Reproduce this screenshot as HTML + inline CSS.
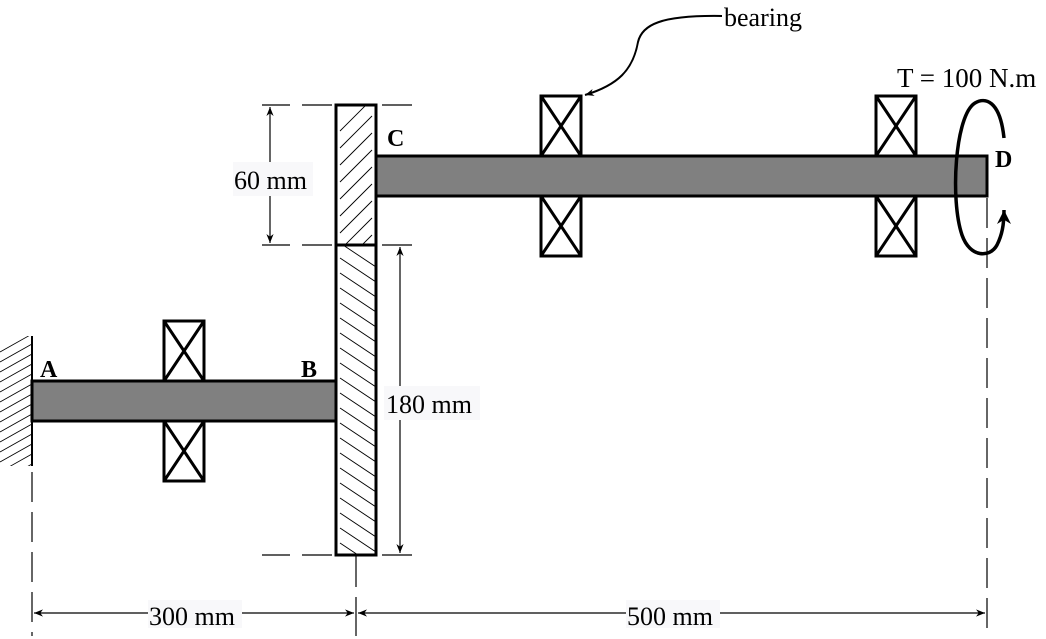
<!DOCTYPE html>
<html><head><style>body{margin:0;background:#fff}svg{display:block}text{font-family:"Liberation Serif",serif}</style></head>
<body>
<svg width="1046" height="639" viewBox="0 0 1046 639" xmlns="http://www.w3.org/2000/svg">
<defs>
<marker id="ar" viewBox="0 0 10 10" refX="10" refY="5" markerWidth="9" markerHeight="9" orient="auto-start-reverse" markerUnits="userSpaceOnUse"><path d="M0,1 L10,5 L0,9 L3,5 z" fill="#000"/></marker>
<marker id="ar2" viewBox="0 0 10 10" refX="10" refY="5" markerWidth="14" markerHeight="14" orient="auto" markerUnits="userSpaceOnUse"><path d="M0,0 L10,5 L0,10 L3,5 z" fill="#000"/></marker>
<clipPath id="cu"><rect x="337" y="106" width="38" height="138"/></clipPath>
<clipPath id="cl"><rect x="337" y="246" width="38" height="308"/></clipPath>
<clipPath id="cw"><rect x="0" y="336" width="32" height="130"/></clipPath>
</defs>
<g clip-path="url(#cw)" stroke="#000" stroke-width="0.8">
<path d="M0,352 L32,334 M0,362 L32,344 M0,372 L32,354 M0,382 L32,364 M0,392 L32,374 M0,402 L32,384 M0,412 L32,394 M0,422 L32,404 M0,432 L32,414 M0,442 L32,424 M0,452 L32,434 M0,462 L32,444 M0,472 L32,454 M0,482 L32,464"/>
</g>
<line x1="32" y1="336" x2="32" y2="466" stroke="#000" stroke-width="2"/>
<g stroke="#000" stroke-width="1.2" stroke-dasharray="30,10">
<line x1="32" y1="472" x2="32" y2="636"/>
<line x1="987" y1="198" x2="987" y2="636"/>
</g>
<g stroke="#000" stroke-width="1.2">
<line x1="356" y1="556" x2="356" y2="587"/>
<line x1="356" y1="597" x2="356" y2="636"/>
</g>
<rect x="32" y="381" width="304" height="40" fill="#808080" stroke="#000" stroke-width="3"/>
<rect x="376" y="156" width="611" height="40" fill="#808080" stroke="#000" stroke-width="3"/>
<rect x="336" y="105" width="40" height="450" fill="#fff" stroke="#000" stroke-width="3"/>
<line x1="336" y1="245" x2="376" y2="245" stroke="#000" stroke-width="3"/>
<g clip-path="url(#cu)" stroke="#000" stroke-width="0.9">
<path d="M340,148 L372,116 M340,165 L372,133 M340,182 L372,150 M340,199 L372,167 M340,216 L372,184 M340,233 L372,201 M340,250 L372,218 M340,267 L372,235 M340,131 L372,99"/>
</g>
<g clip-path="url(#cl)" stroke="#000" stroke-width="0.9">
<path d="M340,243 L376,267 M340,258 L376,282 M340,273 L376,297 M340,288 L376,312 M340,303 L376,327 M340,318 L376,342 M340,333 L376,357 M340,348 L376,372 M340,363 L376,387 M340,378 L376,402 M340,393 L376,417 M340,408 L376,432 M340,423 L376,447 M340,438 L376,462 M340,453 L376,477 M340,468 L376,492 M340,483 L376,507 M340,498 L376,522 M340,513 L376,537 M340,528 L376,552 M340,543 L376,567"/>
</g>
<g fill="#fff" stroke="#000" stroke-width="3">
<rect x="164" y="321" width="40" height="60"/><path d="M164,321 L204,381 M204,321 L164,381"/>
<rect x="164" y="421" width="40" height="60"/><path d="M164,421 L204,481 M204,421 L164,481"/>
<rect x="541" y="96" width="40" height="60"/><path d="M541,96 L581,156 M581,96 L541,156"/>
<rect x="541" y="196" width="40" height="60"/><path d="M541,196 L581,256 M581,196 L541,256"/>
<rect x="876" y="96" width="40" height="60"/><path d="M876,96 L916,156 M916,96 L876,156"/>
<rect x="876" y="196" width="40" height="60"/><path d="M876,196 L916,256 M916,196 L876,256"/>
</g>
<g stroke="#000" stroke-width="1.2">
<line x1="262" y1="105" x2="290" y2="105"/><line x1="302" y1="105" x2="332" y2="105"/><line x1="382" y1="105" x2="412" y2="105"/>
<line x1="262" y1="245" x2="290" y2="245"/><line x1="302" y1="245" x2="332" y2="245"/><line x1="382" y1="245" x2="412" y2="245"/>
<line x1="262" y1="555" x2="290" y2="555"/><line x1="302" y1="555" x2="332" y2="555"/><line x1="382" y1="555" x2="412" y2="555"/>
</g>
<g stroke="#000" stroke-width="1.2" fill="none">
<line x1="270" y1="107" x2="270" y2="243" marker-start="url(#ar)" marker-end="url(#ar)"/>
<line x1="400" y1="247" x2="400" y2="553" marker-start="url(#ar)" marker-end="url(#ar)"/>
<line x1="34" y1="613" x2="354" y2="613" marker-start="url(#ar)" marker-end="url(#ar)"/>
<line x1="358" y1="613" x2="985" y2="613" marker-start="url(#ar)" marker-end="url(#ar)"/>
<path d="M722,16 C660,15 642,25 638,42 C633,70 618,85 585,95" stroke-width="2" marker-end="url(#ar)"/>
</g>
<rect x="233" y="162" width="80" height="34" fill="#f8f8fa"/>
<rect x="384" y="386" width="96" height="34" fill="#f8f8fa"/>
<rect x="148" y="600" width="94" height="28" fill="#f8f8fa"/>
<rect x="626" y="600" width="94" height="28" fill="#f8f8fa"/>
<g font-size="26" fill="#000">
<text x="234" y="189">60 mm</text>
<text x="386" y="413">180 mm</text>
<text x="149" y="625">300 mm</text>
<text x="627" y="625">500 mm</text>
<text x="724" y="26">bearing</text>
<text x="897" y="87" font-size="27">T = 100 N.m</text>
</g>
<g font-size="24" font-weight="bold">
<text x="40" y="377">A</text>
<text x="301" y="377">B</text>
<text x="387" y="146">C</text>
<text x="995" y="167">D</text>
</g>
<path d="M1004,138 C1000,100 985,97 975,103 C955,115 950,200 962,235 C970,258 990,258 997,245 C1002,235 1004,225 1004,210" fill="none" stroke="#000" stroke-width="3.5" marker-end="url(#ar2)"/>
</svg>
</body></html>
